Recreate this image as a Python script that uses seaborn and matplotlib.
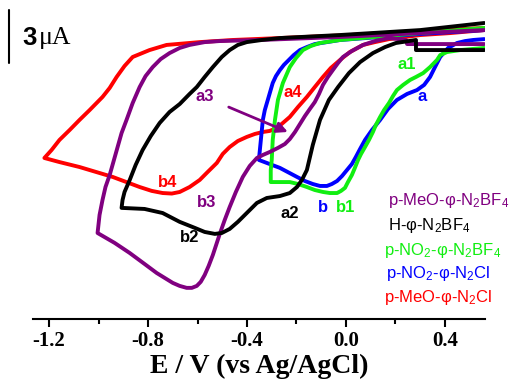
import matplotlib
matplotlib.use("Agg")
import pandas as pd
import matplotlib.pyplot as plt
import seaborn as sns
from matplotlib.ticker import MultipleLocator

# Potencial (V vs Ag/AgCl) e corrente (uA), lidos da figura
# cada voltamograma: ramo catódico (direita -> esquerda) + ramo de retorno
black_E = [0.559, 0.283, 0.283, 0.202, 0.158, 0.109, 0.057, 0.012, -0.032, -0.069, -0.105, -0.134,
           -0.158, -0.178, -0.198, -0.227, -0.267, -0.320, -0.360, -0.401, -0.437, -0.470, -0.502,
           -0.530, -0.571, -0.611, -0.672, -0.741, -0.814, -0.907,
           -0.903, -0.895, -0.874, -0.850, -0.822, -0.789, -0.753, -0.713, -0.672, -0.632, -0.603,
           -0.571, -0.538, -0.502, -0.470, -0.437, -0.401, -0.340, -0.267, -0.024, 0.300, 0.559]
black_I = [-0.85, -0.85, -0.28, -0.45, -0.68, -1.02, -1.53, -2.15, -2.94, -3.67, -4.80, -6.21,
           -7.63, -8.19, -8.59, -8.93, -9.10, -9.21, -9.49, -10.06, -10.56, -10.96, -11.19,
           -11.24, -11.13, -10.90, -10.56, -10.06, -9.83, -9.77,
           -9.32, -8.87, -8.19, -7.34, -6.50, -5.71, -4.97, -4.35, -3.90, -3.33, -2.94,
           -2.37, -1.81, -1.24, -0.85, -0.56, -0.40, -0.28, -0.17, 0.00, 0.28, 0.68]

red_E = [0.559, 0.421, 0.300, 0.174, 0.117, 0.069, 0.016, -0.024, -0.061, -0.093, -0.126, -0.158,
         -0.194, -0.227, -0.255, -0.279, -0.308, -0.336, -0.368, -0.401, -0.437, -0.470, -0.498,
         -0.522, -0.559, -0.591, -0.632, -0.672, -0.704, -0.741, -0.785, -0.834, -0.943, -1.077,
         -1.158, -1.219,
         -1.190, -1.158, -1.117, -1.077, -1.036, -0.984, -0.955, -0.927, -0.895, -0.862, -0.794,
         -0.725, -0.591, -0.457, -0.267, 0.016, 0.300, 0.559]
red_I = [0.28, 0.11, 0.00, -0.23, -0.40, -0.56, -0.96, -1.41, -1.86, -2.37, -2.94, -3.50,
         -4.07, -4.63, -4.97, -5.25, -5.42, -5.48, -5.59, -5.76, -5.99, -6.33, -6.72,
         -7.23, -7.74, -8.19, -8.59, -8.87, -8.96, -8.93, -8.81, -8.59, -8.02, -7.46,
         -7.18, -6.95,
         -6.50, -5.93, -5.37, -4.80, -4.24, -3.50, -2.99, -2.37, -1.75, -1.24, -0.85,
         -0.56, -0.40, -0.28, -0.17, 0.00, 0.23, 0.40]

purple_E = [0.559, 0.247, 0.243, 0.174, 0.117, 0.069, 0.024, -0.012, -0.032, -0.053, -0.073, -0.093,
            -0.109, -0.126, -0.146, -0.166, -0.186, -0.206, -0.227, -0.247, -0.275, -0.308, -0.336,
            -0.360, -0.389, -0.417, -0.445, -0.470, -0.490, -0.510, -0.526, -0.538, -0.555, -0.571,
            -0.587, -0.603, -0.623, -0.644, -0.672, -0.700, -0.765, -0.814, -0.874, -0.935, -1.004,
            -0.996, -0.984, -0.972, -0.955, -0.939, -0.923, -0.907, -0.887, -0.862, -0.834, -0.810,
            -0.781, -0.749, -0.713, -0.672, -0.632, -0.571, -0.510, -0.348, -0.024, 0.300, 0.559]
purple_I = [-0.51, -0.51, -0.28, -0.17, -0.34, -0.56, -0.90, -1.24, -1.58, -1.98, -2.37, -2.82,
            -3.33, -3.79, -4.18, -4.58, -5.03, -5.48, -5.88, -6.16, -6.38, -6.61, -6.78,
            -6.95, -7.40, -8.02, -8.87, -9.72, -10.45, -11.24, -11.92, -12.43, -13.05, -13.56,
            -13.95, -14.18, -14.29, -14.29, -14.18, -14.01, -13.45, -12.94, -12.32, -11.75, -11.19,
            -10.17, -9.32, -8.59, -7.91, -7.12, -6.33, -5.54, -4.80, -3.84, -2.94, -2.32,
            -1.81, -1.36, -1.02, -0.73, -0.56, -0.40, -0.34, -0.28, -0.11, 0.11, 0.28]

blue_E = [0.559, 0.514, 0.482, 0.449, 0.413, 0.381, 0.360, 0.340, 0.316, 0.287, 0.247, 0.206,
          0.170, 0.138, 0.105, 0.077, 0.057, 0.040, 0.024, 0.004, -0.016, -0.036, -0.057,
          -0.077, -0.105, -0.134, -0.166, -0.198, -0.267, -0.352,
          -0.348, -0.344, -0.340, -0.336, -0.328, -0.316, -0.296, -0.283, -0.267, -0.251, -0.231,
          -0.211, -0.186, -0.158, -0.126, -0.024, 0.300, 0.559]
blue_I = [-0.23, -0.28, -0.34, -0.45, -0.73, -1.24, -1.81, -2.37, -2.82, -3.11, -3.33, -3.67,
          -4.18, -4.80, -5.37, -5.93, -6.44, -6.89, -7.29, -7.63, -7.97, -8.25, -8.42,
          -8.53, -8.53, -8.42, -8.25, -8.02, -7.51, -7.06,
          -6.50, -5.93, -5.37, -4.80, -4.24, -3.67, -2.71, -2.32, -1.98, -1.69, -1.41,
          -1.13, -0.85, -0.68, -0.51, -0.28, 0.06, 0.28]

green_E = [0.559, 0.462, 0.409, 0.381, 0.368, 0.340, 0.312, 0.283, 0.259, 0.231, 0.206, 0.190,
           0.174, 0.154, 0.138, 0.121, 0.109, 0.093, 0.077, 0.061, 0.049, 0.036, 0.024, 0.008,
           -0.004, -0.020, -0.036, -0.065, -0.093, -0.126, -0.158, -0.194, -0.227, -0.304,
           -0.304, -0.300, -0.296, -0.287, -0.275, -0.255, -0.227, -0.202, -0.174, -0.142, -0.105,
           -0.024, 0.300, 0.559]
green_I = [-0.73, -0.85, -0.96, -1.13, -1.41, -1.81, -2.15, -2.37, -2.54, -2.82, -3.11, -3.45,
           -3.84, -4.24, -4.63, -5.08, -5.48, -5.93, -6.33, -6.72, -7.06, -7.51, -7.91, -8.31,
           -8.64, -8.81, -8.93, -8.93, -8.87, -8.76, -8.59, -8.42, -8.31, -8.31,
           -7.63, -7.06, -5.93, -4.80, -3.67, -2.71, -1.81, -1.30, -0.85, -0.62, -0.45,
           -0.28, 0.11, 0.40]

# rótulos dos picos
peak_labels = ["a1", "a", "a4", "b4", "b3", "b2", "a2", "b", "b1"]
peak_E = [0.247, 0.308, -0.215, -0.721, -0.563, -0.632, -0.227, -0.093, 0.0]
peak_I = [-1.69, -3.50, -3.22, -8.31, -9.49, -11.47, -10.06, -9.77, -9.77]

legend_labels = ["p-MeO-φ-N$_2$BF$_4$", "H-φ-N$_2$BF$_4$", "p-NO$_2$-φ-N$_2$BF$_4$",
                 "p-NO$_2$-φ-N$_2$Cl", "p-MeO-φ-N$_2$Cl"]

PURPLE = "#800080"
GREEN = "#11ee11"
cores = {"red": "#ff0000", "blue": "#0000ff", "green": GREEN, "purple": PURPLE, "black": "#000000"}

sns.set_theme(style="white")
plt.rcParams["font.family"] = ["Liberation Sans", "DejaVu Sans"]
plt.rcParams["mathtext.default"] = "regular"
plt.rcParams["axes.unicode_minus"] = False
plt.rcParams["text.color"] = "black"
plt.rcParams["axes.labelcolor"] = "black"
plt.rcParams["xtick.color"] = "black"

fig = plt.figure(figsize=(5.12, 3.82), dpi=100)
ax = fig.add_axes([33 / 512, 63 / 382, 452 / 512, 319 / 382])

curvas = [("red", red_E, red_I), ("blue", blue_E, blue_I), ("green", green_E, green_I),
          ("purple", purple_E, purple_I), ("black", black_E, black_I)]
for nome, E, I in curvas:
    df = pd.DataFrame({"E": E, "I": I})
    sns.lineplot(data=df, x="E", y="I", sort=False, estimator=None, color=cores[nome],
                 lw=2.8, ax=ax)

ax.set_xlim(-1.265, 0.562)
ax.set_ylim(-16.05, 1.98)

# seta do pico a3
ax.annotate("a3", xy=(-0.235, -5.48), xytext=(-0.571, -3.50), color=PURPLE,
            fontsize=12, fontweight="bold", ha="center", va="center",
            arrowprops=dict(arrowstyle="-|>", color=PURPLE, lw=2, mutation_scale=16,
                            shrinkA=9, shrinkB=0))

peak_cores = ["green", "blue", "red", "red", "purple", "black", "black", "blue", "green"]
for txt, x, y, c in zip(peak_labels, peak_E, peak_I, peak_cores):
    ax.text(x, y, txt, color=cores[c], fontsize=12, fontweight="bold", ha="center", va="center")

leg_cores = ["purple", "black", "green", "blue", "red"]
leg_x = [0.168, 0.168, 0.153, 0.160, 0.153]
leg_y = [-9.60, -11.02, -12.43, -13.73, -15.08]
for txt, x, y, c in zip(legend_labels, leg_x, leg_y, leg_cores):
    ax.text(x, y, txt, color=cores[c], fontsize=12, ha="left", va="baseline")

# barra de escala 3 uA
ax.plot([-1.360, -1.360], [1.41, -1.59], color="black", lw=1.5, clip_on=False)
ax.text(-1.310, -0.15, "3", fontsize=18.5, fontweight="bold", ha="left", va="center")
ax.text(-1.240, -0.15, "μA", fontsize=18.5, family="Liberation Serif", ha="left", va="center")

for s in ["top", "left", "right"]:
    ax.spines[s].set_visible(False)
ax.spines["bottom"].set_color("black")
ax.spines["bottom"].set_linewidth(1.5)
ax.set_yticks([])
ax.xaxis.set_major_locator(MultipleLocator(0.4))
ax.xaxis.set_minor_locator(MultipleLocator(0.2))
ax.set_xticks([-1.2, -0.8, -0.4, 0.0, 0.4])
ax.set_xticklabels(["-1.2", "-0.8", "-0.4", "0.0", "0.4"])
ax.tick_params(axis="x", which="major", direction="out", length=6, width=1.5, bottom=True,
               labelsize=15, pad=3, colors="black")
ax.tick_params(axis="x", which="minor", direction="out", length=3.5, width=1.5, bottom=True,
               colors="black")
plt.setp(ax.get_xticklabels(), fontfamily="Liberation Serif", fontweight="bold")
ax.set_xlabel("E / V (vs Ag/AgCl)", fontsize=20, fontweight="bold",
              family="Liberation Serif", labelpad=2)
ax.set_ylabel("")

fig.savefig("out.png", dpi=100)
plt.close(fig)
